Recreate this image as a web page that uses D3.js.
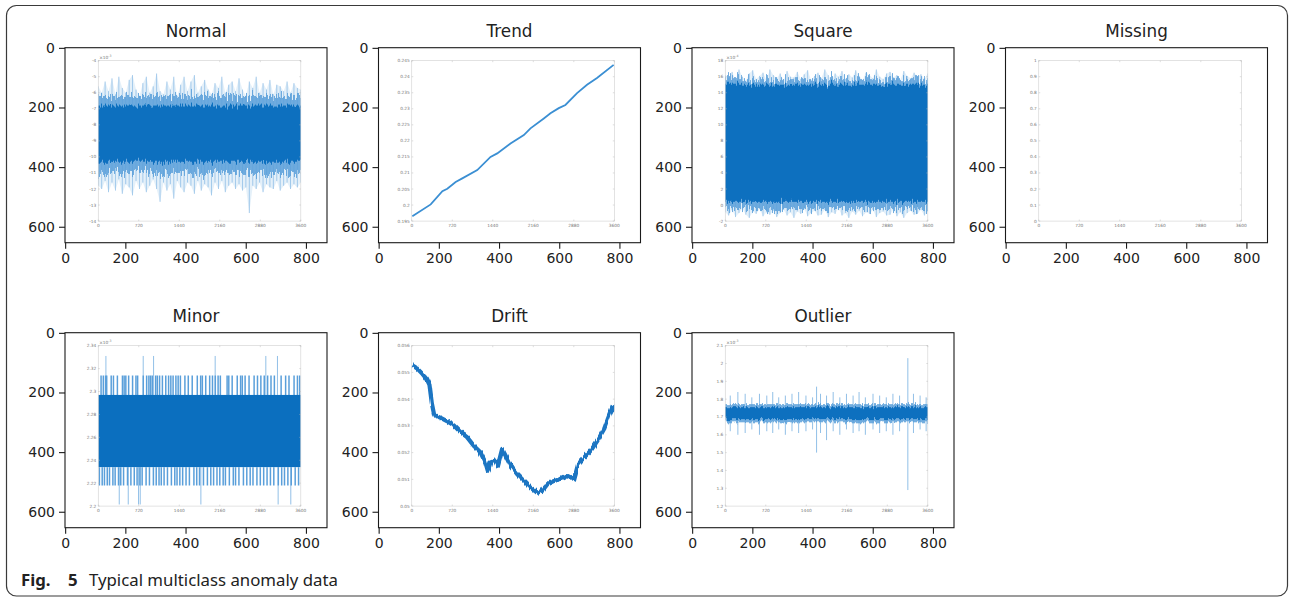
<!DOCTYPE html>
<html>
<head>
<meta charset="utf-8">
<script src="https://cdn.jsdelivr.net/npm/d3@7"></script>
<style>
  body { margin: 0; background: #fff; }
  svg text { font-family: "DejaVu Sans", sans-serif; }
  .caption text { font-family: "Noto Sans", "Open Sans", sans-serif; }
</style>
</head>
<body>
<svg id="fig" width="1290" height="598"></svg>
<script>
// ---- tick labels ----
const outerXTicks = [0, 200, 400, 600, 800];
const outerYTicks = [0, 200, 400, 600];
const innerXTicks = [0, 720, 1440, 2160, 2880, 3600];
const normalYTicks = [-14, -13, -12, -11, -10, -9, -8, -7, -6, -5, -4];
const trendYTicks = [0.195, 0.2, 0.205, 0.21, 0.215, 0.22, 0.225, 0.23, 0.235, 0.24, 0.245];
const squareYTicks = [-2, 0, 2, 4, 6, 8, 10, 12, 14, 16, 18];
const missingYTicks = [0, 0.1, 0.2, 0.3, 0.4, 0.5, 0.6, 0.7, 0.8, 0.9, 1];
const minorYTicks = [2.2, 2.22, 2.24, 2.26, 2.28, 2.3, 2.32, 2.34];
const driftYTicks = [0.05, 0.051, 0.052, 0.053, 0.054, 0.055, 0.056];
const outlierYTicks = [1.2, 1.3, 1.4, 1.5, 1.6, 1.7, 1.8, 1.9, 2, 2.1];

// ---- Normal (x1e-3): dense band + spike envelopes ----
const normalCore = [-10.3, -6.8];
const normalFringe = [-11.0, -6.2];
const normalHi = [-5.6,-6.0,-5.3,-5.9,-5.1,-6.1,-5.0,-5.7,-6.0,-5.2,-4.9,-5.8,-6.2,-5.4,-5.0,-6.0,-5.6,-4.8,-5.9,-6.1,
  -5.3,-5.8,-5.0,-6.2,-5.5,-5.0,-5.9,-5.3,-4.9,-6.0,-5.6,-5.2,-5.8,-6.1,-5.4,-5.7,-5.0,-6.0,-5.5,-5.3,
  -5.9,-5.1,-5.8,-6.2,-5.3,-5.7,-5.0,-6.0,-5.4,-5.8,-5.2,-6.1,-5.5,-5.6,-5.9,-5.3,-6.0,-5.4,-5.7,-5.8];
const normalLo = [-11.8,-12.0,-11.5,-12.2,-11.6,-12.1,-11.4,-12.3,-11.7,-11.9,-12.4,-11.5,-12.0,-11.6,-12.2,-11.8,-11.4,-12.0,-12.8,-11.6,
  -12.1,-11.7,-12.6,-11.5,-11.9,-12.2,-11.6,-11.8,-12.3,-11.5,-12.1,-11.7,-11.9,-12.4,-11.6,-12.0,-11.5,-12.2,-11.8,-11.6,
  -12.0,-11.7,-12.1,-11.9,-13.5,-11.8,-12.0,-11.6,-12.2,-11.7,-11.9,-12.0,-11.5,-12.1,-11.8,-11.6,-12.0,-11.7,-11.9,-11.6];

// ---- Trend ----
const trendT = [10, 337, 544, 632, 780, 898, 1164, 1400, 1519, 1755, 1992, 2110, 2347, 2465, 2613, 2731, 2938, 3115, 3292, 3588];
const trendV = [0.1965, 0.2002, 0.2043, 0.2051, 0.2072, 0.2083, 0.2109, 0.2150, 0.2161, 0.2192, 0.2218, 0.2239, 0.2270, 0.2286,
  0.2302, 0.2312, 0.2349, 0.2375, 0.2396, 0.2437];

// ---- Square (x1e-4) ----
const squareCore = [0.4, 15.0];
const squareFringe = [-0.5, 15.7];
const squareHi = [16.2,15.8,16.6,15.6,16.9,16.0,15.5,16.4,16.8,15.7,16.1,16.5,15.6,16.9,16.2,15.8,16.4,15.5,16.7,16.0,
  15.9,16.6,15.7,16.3,16.8,15.6,16.1,16.5,15.8,16.9,16.2,15.5,16.4,16.0,16.7,15.7,16.3,15.9,16.8,16.1,
  15.6,16.5,16.2,15.8,16.9,16.0,15.7,16.4,16.6,15.9,16.2,15.6,16.7,16.1,15.8,16.5,16.0,16.3,15.7,16.4];
const squareLo = [-0.9,-1.3,-0.6,-1.5,-1.0,-0.4,-1.2,-1.6,-0.8,-1.1,-0.5,-1.4,-0.9,-1.2,-0.7,-1.5,-1.0,-0.6,-1.3,-0.9,
  -1.6,-0.8,-1.1,-0.5,-1.4,-1.0,-0.7,-1.3,-1.2,-0.6,-1.5,-0.9,-1.1,-0.4,-1.3,-1.0,-1.6,-0.8,-1.2,-0.7,
  -1.4,-0.9,-1.1,-0.6,-1.5,-1.0,-0.8,-1.3,-1.2,-0.5,-1.4,-0.9,-1.6,-1.0,-0.7,-1.2,-1.1,-0.6,-1.3,-0.8];

// ---- Minor (x1e-3): quantised levels ----
const minorCore = [2.234, 2.297];
const minorLevels = [2.2014, 2.2179, 2.314, 2.331];
const minorUpT = [50, 90, 130, 150, 230, 270, 340, 430, 460, 490, 540, 610, 670, 700, 800, 860, 900, 930, 960, 1020, 1050,
  1090, 1140, 1200, 1250, 1290, 1330, 1380, 1420, 1460, 1540, 1600, 1670, 1760, 1820, 1850, 1910, 1980, 2030, 2080, 2130,
  2170, 2290, 2320, 2380, 2470, 2530, 2560, 2610, 2680, 2770, 2830, 2890, 2950, 3010, 3070, 3130, 3250, 3330, 3390, 3480, 3540, 3580];
const minorDnT = [20, 70, 110, 160, 200, 260, 300, 360, 400, 450, 520, 580, 640, 690, 740, 780, 850, 910, 980, 1030, 1080,
  1120, 1170, 1230, 1300, 1360, 1400, 1450, 1500, 1560, 1620, 1700, 1750, 1800, 1870, 1940, 2000, 2050, 2110, 2160, 2220,
  2260, 2330, 2400, 2440, 2500, 2580, 2640, 2700, 2750, 2820, 2880, 2940, 3000, 3060, 3120, 3200, 3260, 3310, 3370, 3430, 3500, 3560];
const minorSpikeUpT = [136, 799, 983, 2078, 2978, 3185];
const minorSpikeDnT = [373, 533, 716, 746, 1824, 3197, 3422];

// ---- Drift ----
const driftT = [0, 89, 179, 268, 315, 357, 399, 506, 625, 744, 863, 982, 1101, 1220, 1309, 1351, 1398, 1488, 1529, 1607, 1666,
  1755, 1874, 1993, 2112, 2231, 2321, 2410, 2529, 2648, 2767, 2886, 2957, 3064, 3183, 3302, 3421, 3510, 3570, 3600];
const driftV = [0.05528, 0.05516, 0.05497, 0.05474, 0.05453, 0.05384, 0.05340, 0.05331, 0.05318, 0.05302, 0.05277, 0.05258,
  0.05226, 0.05201, 0.05163, 0.05132, 0.05163, 0.05170, 0.05151, 0.05214, 0.05189, 0.05151, 0.05119, 0.05094, 0.05069,
  0.05050, 0.05057, 0.05082, 0.05094, 0.05101, 0.05113, 0.05101, 0.05157, 0.05182, 0.05208, 0.05245, 0.05289, 0.05340,
  0.05371, 0.05352];

// ---- Outlier (x1e-3) ----
const outlierCore = [1.688, 1.755];
const outlierFringe = [1.67, 1.772];
const outlierT = [89, 224, 354, 472, 608, 738, 844, 950, 1068, 1186, 1304, 1434, 1552, 1623, 1693, 1800, 1918, 2036, 2154,
  2272, 2378, 2490, 2626, 2744, 2862, 2980, 3098, 3245, 3345, 3463, 3570];
const outlierHi = [1.82, 1.84, 1.83, 1.81, 1.83, 1.82, 1.84, 1.81, 1.82, 1.83, 1.84, 1.82, 1.81, 1.87, 1.83, 1.82, 1.84, 1.81,
  1.83, 1.82, 1.84, 1.81, 1.83, 1.82, 1.81, 1.83, 1.82, 2.03, 1.83, 1.82, 1.81];
const outlierLo = [1.62, 1.60, 1.61, 1.63, 1.60, 1.62, 1.61, 1.63, 1.60, 1.62, 1.61, 1.62, 1.63, 1.50, 1.61, 1.57, 1.62, 1.60,
  1.63, 1.61, 1.62, 1.60, 1.63, 1.61, 1.62, 1.60, 1.62, 1.29, 1.61, 1.63, 1.62];

// ---- layout ----
const colX = [65, 378.5, 692, 1005.5];
const rowY = [47.7, 332.7];
const axW = 262, axH = 195;
const imgW = 870, imgH = 653.5;               // extent of the embedded picture
const inner = { x0: 110, x1: 783, y0: 43, y1: 581 };  // matlab axes inside the picture

const dark = "#0b6fbf", light = "#86b9e4";

const svg = d3.select("#fig");
const defs = svg.append("defs");

//noise texture filters (rough, spiky edges of a dense signal)
function jagFilter(id, scale, fx) {
  const f = defs.append("filter").attr("id", id)
    .attr("filterUnits", "userSpaceOnUse").attr("x", 0).attr("y", 0).attr("width", 1290).attr("height", 598);
  f.append("feTurbulence").attr("type", "fractalNoise").attr("baseFrequency", fx + " 0.02")
    .attr("numOctaves", 2).attr("seed", 7).attr("result", "n");
  f.append("feDisplacementMap").attr("in", "SourceGraphic").attr("in2", "n").attr("scale", scale)
    .attr("xChannelSelector", "B").attr("yChannelSelector", "G");
}
jagFilter("jagBig", 22, 0.8);
jagFilter("jagMid", 12, 0.8);
jagFilter("jagSmall", 7, 0.6);
jagFilter("jagLine", 4, 0.5);

// outer rounded frame
svg.append("rect")
  .attr("x", 6.5).attr("y", 5.5).attr("width", 1281).attr("height", 590.5)
  .attr("rx", 10).attr("fill", "none").attr("stroke", "#3a3a3a").attr("stroke-width", 1.2);

function band(g, x, y, lo, hi, color, filt, op) {
  g.append("rect")
    .attr("x", x(0) - 6).attr("width", x(3600) - x(0) + 12)
    .attr("y", y(hi)).attr("height", y(lo) - y(hi))
    .attr("fill", color).attr("opacity", op).attr("filter", "url(#" + filt + ")");
}

//noise band: light spikes, fringe and dark core
function noise(hi, lo, core, fringe, filtA, filtB) {
  return function (g, x, y) {
    const t = d3.range(hi.length).map(i => i * 3600 / (hi.length - 1));
    g.append("path").datum(d3.range(hi.length))
      .attr("d", d3.area().x(i => x(t[i])).y0(i => y(lo[i])).y1(i => y(hi[i])))
      .attr("fill", light).attr("opacity", 0.22);
    g.selectAll(".spk").data(hi).enter().append("line")
      .attr("x1", (d, i) => x(t[i])).attr("x2", (d, i) => x(t[i]))
      .attr("y1", d => y(d)).attr("y2", (d, i) => y(lo[i]))
      .attr("stroke", light).attr("stroke-width", 0.8).attr("opacity", 0.9);
    band(g, x, y, fringe[0], fringe[1], "#5a9fda", filtA, 0.85);
    band(g, x, y, core[0], core[1], dark, filtB, 1);
  };
}

function drawTrend(g, x, y) {
  g.append("path").datum(d3.zip(trendT, trendV))
    .attr("d", d3.line().x(d => x(d[0])).y(d => y(d[1])))
    .attr("fill", "none").attr("stroke", "#3b8fd3").attr("stroke-width", 1.8);
}

function drawMinor(g, x, y) {
  const seg = (ts, a, b, w, c) => ts.forEach(t => {
    g.append("line").attr("x1", x(t)).attr("x2", x(t)).attr("y1", y(a)).attr("y2", y(b))
      .attr("stroke", c).attr("stroke-width", w);
  });
  seg(minorSpikeUpT, minorCore[1], minorLevels[3], 0.9, light);
  seg(minorSpikeDnT, minorCore[0], minorLevels[0], 0.9, light);
  seg(minorUpT, minorCore[1], minorLevels[2], 1.5, "#5a9fda");
  seg(minorDnT, minorCore[0], minorLevels[1], 1.5, "#5a9fda");
  g.append("rect")
    .attr("x", x(0)).attr("width", x(3600) - x(0))
    .attr("y", y(minorCore[1])).attr("height", y(minorCore[0]) - y(minorCore[1]))
    .attr("fill", dark);
}

function drawDrift(g, x, y) {
  g.append("path").datum(d3.zip(driftT, driftV))
    .attr("d", d3.line().x(d => x(d[0])).y(d => y(d[1])))
    .attr("fill", "none").attr("stroke", "#1a74c2").attr("stroke-width", 4.2)
    .attr("stroke-linejoin", "round").attr("filter", "url(#jagLine)");
}

function drawOutlier(g, x, y) {
  g.selectAll(".spk").data(outlierT).enter().append("line")
    .attr("x1", d => x(d)).attr("x2", d => x(d))
    .attr("y1", (d, i) => y(outlierHi[i])).attr("y2", (d, i) => y(outlierLo[i]))
    .attr("stroke", light).attr("stroke-width", 0.9);
  band(g, x, y, outlierFringe[0], outlierFringe[1], "#5a9fda", "jagSmall", 0.85);
  band(g, x, y, outlierCore[0], outlierCore[1], dark, "jagSmall", 1);
}

const panels = [
  { title: "Normal", col: 0, row: 0, yTicks: normalYTicks, exp: "-3", draw: noise(normalHi, normalLo, normalCore, normalFringe, "jagBig", "jagMid") },
  { title: "Trend", col: 1, row: 0, yTicks: trendYTicks, exp: null, draw: drawTrend },
  { title: "Square", col: 2, row: 0, yTicks: squareYTicks, exp: "-4", draw: noise(squareHi, squareLo, squareCore, squareFringe, "jagBig", "jagMid") },
  { title: "Missing", col: 3, row: 0, yTicks: missingYTicks, exp: null, draw: () => {} },
  { title: "Minor", col: 0, row: 1, yTicks: minorYTicks, exp: "-3", draw: drawMinor },
  { title: "Drift", col: 1, row: 1, yTicks: driftYTicks, exp: null, draw: drawDrift },
  { title: "Outlier", col: 2, row: 1, yTicks: outlierYTicks, exp: "-3", draw: drawOutlier }
];

panels.forEach((p, k) => {
  const left = colX[p.col], top = rowY[p.row];
  const xo = d3.scaleLinear().domain([-0.5, imgW]).range([left, left + axW]);
  const yo = d3.scaleLinear().domain([-0.5, imgH]).range([top, top + axH]);
  const g = svg.append("g");

  // inner (matlab) plot
  const x = d3.scaleLinear().domain([0, 3600]).range([xo(inner.x0), xo(inner.x1)]);
  const y = d3.scaleLinear().domain(d3.extent(p.yTicks)).range([yo(inner.y1), yo(inner.y0)]);
  defs.append("clipPath").attr("id", "clip" + k).append("rect")
    .attr("x", x(0)).attr("y", y.range()[1]).attr("width", x(3600) - x(0)).attr("height", y.range()[0] - y.range()[1]);
  const ig = g.append("g");
  p.draw(ig.append("g").attr("clip-path", "url(#clip" + k + ")"), x, y);

  const ax = ig.append("g").attr("class", "inner-axes");
  ax.append("rect")
    .attr("x", x(0)).attr("y", y.range()[1]).attr("width", x(3600) - x(0)).attr("height", y.range()[0] - y.range()[1])
    .attr("fill", "none").attr("stroke", "#cfcfcf").attr("stroke-width", 0.6);
  innerXTicks.forEach(t => {
    ax.append("line").attr("x1", x(t)).attr("x2", x(t)).attr("y1", y.range()[0]).attr("y2", y.range()[0] - 1.5).attr("stroke", "#bbb").attr("stroke-width", 0.5);
    ax.append("line").attr("x1", x(t)).attr("x2", x(t)).attr("y1", y.range()[1]).attr("y2", y.range()[1] + 1.5).attr("stroke", "#bbb").attr("stroke-width", 0.5);
    ax.append("text").attr("x", x(t)).attr("y", y.range()[0] + 6).attr("text-anchor", "middle")
      .attr("font-size", 4.3).attr("fill", "#777").text(t);
  });
  p.yTicks.forEach(v => {
    ax.append("line").attr("x1", x(0)).attr("x2", x(0) + 1.5).attr("y1", y(v)).attr("y2", y(v)).attr("stroke", "#bbb").attr("stroke-width", 0.5);
    ax.append("line").attr("x1", x(3600)).attr("x2", x(3600) - 1.5).attr("y1", y(v)).attr("y2", y(v)).attr("stroke", "#bbb").attr("stroke-width", 0.5);
    ax.append("text").attr("x", x(0) - 2).attr("y", y(v) + 1.5).attr("text-anchor", "end")
      .attr("font-size", 4.3).attr("fill", "#777").text(v);
  });
  if (p.exp) {
    const e = ax.append("text").attr("x", x(0) + 1).attr("y", y.range()[1] - 1.5)
      .attr("font-size", 4.3).attr("fill", "#777");
    e.append("tspan").text("×10");
    e.append("tspan").attr("dy", -1.8).attr("font-size", 3.2).text(p.exp);
  }

  // outer (matplotlib) axes
  g.append("rect").attr("x", left).attr("y", top).attr("width", axW).attr("height", axH)
    .attr("fill", "none").attr("stroke", "#1a1a1a").attr("stroke-width", 1.1);
  const ya = g.append("g").attr("transform", "translate(" + left + ",0)")
    .call(d3.axisLeft(yo).tickValues(outerYTicks).tickSize(6).tickPadding(4));
  const xa = g.append("g").attr("transform", "translate(0," + (top + axH) + ")")
    .call(d3.axisBottom(xo).tickValues(outerXTicks).tickSize(6).tickPadding(4));
  [ya, xa].forEach(a => {
    a.select(".domain").remove();
    a.selectAll("line").attr("stroke", "#1a1a1a").attr("stroke-width", 1.1);
    a.selectAll("text").attr("font-size", 14).attr("fill", "#222").attr("font-family", "DejaVu Sans, sans-serif");
  });

  g.append("text").attr("x", left + axW / 2).attr("y", top - 10.5).attr("text-anchor", "middle")
    .attr("font-size", 16.8).attr("fill", "#222").text(p.title);
});

// caption
const cap = svg.append("g").attr("class", "caption").append("text")
  .attr("x", 21).attr("y", 586).attr("font-size", 16.8).attr("fill", "#222");
cap.append("tspan").attr("font-weight", "bold").text("Fig.");
cap.append("tspan").attr("x", 68).attr("font-weight", "bold").text("5");
cap.append("tspan").attr("x", 89).text("Typical multiclass anomaly data");
</script>
</body>
</html>
